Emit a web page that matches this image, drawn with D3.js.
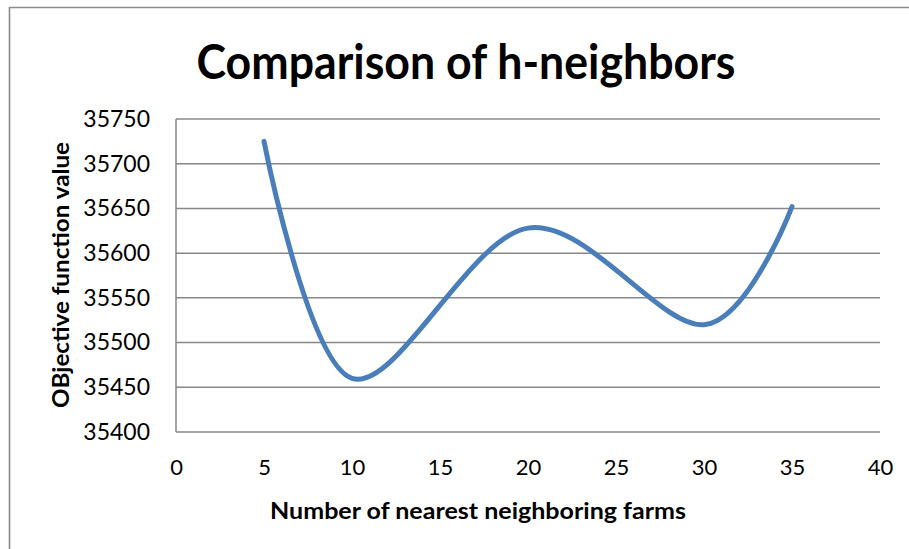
<!DOCTYPE html>
<html>
<head>
<meta charset="utf-8">
<script src="https://cdn.jsdelivr.net/npm/d3@7"></script>
<style>
  html, body { margin: 0; padding: 0; background: #fff; }
  svg { display: block; }
  text { font-family: Lato, "Open Sans", sans-serif; fill: #000; }
</style>
</head>
<body>
<svg id="chart" width="909" height="549"></svg>
<script>
// Number of nearest neighbouring farms (h) and the resulting objective value
const neighbors = [5, 10, 20, 30, 35];
const objective = [35725, 35460, 35628, 35520, 35652];

const xTicks = [0, 5, 10, 15, 20, 25, 30, 35, 40];
const yTicks = [35400, 35450, 35500, 35550, 35600, 35650, 35700, 35750];

const titleText = "Comparison of h-neighbors";
const xTitle = "Number of nearest neighboring farms";
const yTitle = "OBjective function value";

const W = 909, H = 549;
const plot = { left: 176, right: 880, top: 119, bottom: 432 };

const svg = d3.select("#chart");

// outer chart frame (only top and left edges fall inside the view)
svg.append("path")
  .attr("d", `M9.5,${H} V7.5 H${W}`)
  .attr("fill", "none")
  .attr("stroke", "#8c8c8c")
  .attr("stroke-width", 1.6);

const x = d3.scaleLinear().domain([0, 40]).range([plot.left, plot.right]);
const y = d3.scaleLinear().domain([35400, 35750]).range([plot.bottom, plot.top]);

// horizontal gridlines
svg.append("g")
  .selectAll("line")
  .data(yTicks)
  .join("line")
  .attr("x1", plot.left)
  .attr("x2", plot.right)
  .attr("y1", d => y(d))
  .attr("y2", d => y(d))
  .attr("stroke", "#878787")
  .attr("stroke-width", 1.5);

// left value axis line
svg.append("line")
  .attr("x1", plot.left).attr("x2", plot.left)
  .attr("y1", plot.top).attr("y2", plot.bottom)
  .attr("stroke", "#878787")
  .attr("stroke-width", 1.5);

// y axis labels
const yAxis = d3.axisLeft(y).tickValues(yTicks).tickSize(0).tickPadding(26)
  .tickFormat(d3.format("d"));
const gy = svg.append("g").attr("transform", `translate(${plot.left},0)`).call(yAxis);
gy.select(".domain").remove();
gy.selectAll("text").style("font-size", "23px").style("font-family", "Lato, sans-serif").attr("fill", "#000");

// x axis labels
const xAxis = d3.axisBottom(x).tickValues(xTicks).tickSize(0).tickPadding(27);
const gx = svg.append("g").attr("transform", `translate(0,${plot.bottom})`).call(xAxis);
gx.select(".domain").remove();
gx.selectAll("text").style("font-size", "22px").style("font-family", "Lato, sans-serif").attr("fill", "#000");

// smoothed series line
const line = d3.line()
  .x((d, i) => x(neighbors[i]))
  .y(d => y(d))
  .curve(d3.curveCardinal.tension(0));

svg.append("path")
  .datum(objective)
  .attr("d", line)
  .attr("fill", "none")
  .attr("stroke", "#4a7ebb")
  .attr("stroke-width", 5)
  .attr("stroke-linecap", "round")
  .attr("stroke-linejoin", "round");

// titles
svg.append("text")
  .attr("x", 466).attr("y", 79)
  .attr("text-anchor", "middle")
  .attr("textLength", 539).attr("lengthAdjust", "spacingAndGlyphs")
  .style("font-size", "47px").style("font-weight", "bold")
  .text(titleText);

svg.append("text")
  .attr("x", 478).attr("y", 519)
  .attr("text-anchor", "middle")
  .attr("textLength", 416).attr("lengthAdjust", "spacingAndGlyphs")
  .style("font-size", "23px").style("font-weight", "bold")
  .text(xTitle);

svg.append("text")
  .attr("transform", `translate(69,275) rotate(-90)`)
  .attr("text-anchor", "middle")
  .attr("textLength", 266).attr("lengthAdjust", "spacingAndGlyphs")
  .style("font-size", "22px").style("font-weight", "bold")
  .text(yTitle);
</script>
</body>
</html>
